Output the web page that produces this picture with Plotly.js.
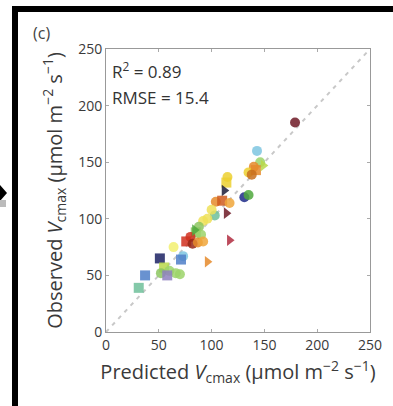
<!DOCTYPE html>
<html><head><meta charset="utf-8">
<script src="https://cdn.plot.ly/plotly-3.0.1.min.js"></script>
<style>html,body{margin:0;padding:0;background:#fff;}#chart{width:393px;height:406px;}</style>
</head><body><div id="chart"></div>
<script>
// Predicted vs observed Vcmax (µmol m-2 s-1)
const predicted = [179,143,146,140,135,142,138,149,115,114,112,131,135,104,110,117,114,103,96,92,88,85,90,80,76,82,87,92,117,64,73,71,51,96,55,60,66,52,58,70,37,31,100,84];
const observed  = [185,160,150,146,141,143,139,147,137,132,125,119,121,115,116,114,105,103,100,98,93,88,86,84,80,78,79,80,81,75,67,64,65,62,57,54,52,52,50,51,50,39,108,90];
const siteGroup = [0,1,2,3,4,3,5,6,4,4,7,8,9,3,10,11,0,12,13,13,14,14,2,15,15,16,3,11,17,18,1,19,20,3,6,2,2,14,21,2,19,12,13,9];
const siteShape = [0,0,0,0,0,1,0,2,0,1,2,0,0,0,1,0,2,0,0,0,0,1,0,0,1,0,0,0,2,0,0,1,1,2,1,0,0,0,1,0,1,1,0,2];
const oneToOne = [0,250];
const stats = ["R<sup>2</sup> = 0.89","RMSE = 15.4"];

const palette = ["#6e1a26","#7ec6e0","#9cd46a","#e58a2a","#ecd030","#c8701f","#b8d84a","#1c1c3a","#1e2c88","#4fa83c","#cf5a1f","#f0a63a","#6fbf9a","#efe058","#8cc660","#d0301f","#962818","#b02c40","#f2f070","#4f7fc8","#1c2264","#8e80c0"];
const symbols = ["circle","square","triangle-right"];

const traces = [{
  x: oneToOne, y: oneToOne, mode:"lines", hoverinfo:"skip",
  line:{color:"#c8c8c8", width:2, dash:"4px,5px"}, showlegend:false
},{
  x: predicted, y: observed, mode:"markers", showlegend:false,
  marker:{
    color: siteGroup.map(g=>palette[g]),
    symbol: siteShape.map(s=>symbols[s]),
    size: 10, opacity: 0.85, line:{width:0}
  }
}];

const tickFont = {family:"Open Sans, sans-serif", size:14, color:"#3a3a3a"};
const titleFont = {family:"Open Sans, sans-serif", size:20, color:"#3a3a3a"};
const axisBase = {
  range:[0,250], tickvals:[0,50,100,150,200,250], ticks:"inside", ticklen:3,
  tickcolor:"#aaa", showline:true, linecolor:"#999", linewidth:1, mirror:"ticks",
  showgrid:false, zeroline:false, tickfont:tickFont, fixedrange:true
};

// frame geometry helpers (pixel -> paper)
const L=106, R=370, T=49, B=332;
const px = v => (v-L)/(R-L);
const py = v => (B-v)/(B-T);

const layout = {
  width:393, height:406,
  margin:{l:L, r:393-R, t:T, b:406-B},
  paper_bgcolor:"#fff", plot_bgcolor:"#fff",
  xaxis:Object.assign({}, axisBase, {
    title:{text:"Predicted <i>V</i><sub>cmax</sub> (µmol m<sup>−2</sup> s<sup>−1</sup>)", font:titleFont, standoff:12}
  }),
  yaxis:Object.assign({}, axisBase, {
    title:{text:"Observed <i>V</i><sub>cmax</sub> (µmol m<sup>−2</sup> s<sup>−1</sup>)", font:titleFont, standoff:10}
  }),
  annotations:[
    {xref:"paper", yref:"paper", x:px(110), y:py(70), xanchor:"left", yanchor:"middle", text:stats[0], showarrow:false, font:{family:"Open Sans, sans-serif", size:17, color:"#333"}},
    {xref:"paper", yref:"paper", x:px(110), y:py(97), xanchor:"left", yanchor:"middle", text:stats[1], showarrow:false, font:{family:"Open Sans, sans-serif", size:17, color:"#333"}},
    {xref:"paper", yref:"paper", x:px(31), y:py(33), xanchor:"left", yanchor:"middle", text:"(c)", showarrow:false, font:{family:"Open Sans, sans-serif", size:16, color:"#444"}}
  ],
  shapes:[
    {type:"rect", xref:"paper", yref:"paper", x0:px(12), x1:px(393), y0:py(12), y1:py(6), fillcolor:"#000", line:{width:0}, layer:"above"},
    {type:"rect", xref:"paper", yref:"paper", x0:px(12), x1:px(18), y0:py(406), y1:py(6), fillcolor:"#000", line:{width:0}, layer:"above"},
    {type:"path", xref:"paper", yref:"paper", path:`M ${px(0)} ${py(185)} L ${px(7)} ${py(193)} L ${px(0)} ${py(201)} Z`, fillcolor:"#000", line:{width:0}, layer:"above"},
    {type:"rect", xref:"paper", yref:"paper", x0:px(0), x1:px(6), y0:py(207), y1:py(200), fillcolor:"#bbb", line:{width:0}, layer:"above"}
  ]
};

Plotly.newPlot("chart", traces, layout, {displayModeBar:false, staticPlot:true});
</script></body></html>
